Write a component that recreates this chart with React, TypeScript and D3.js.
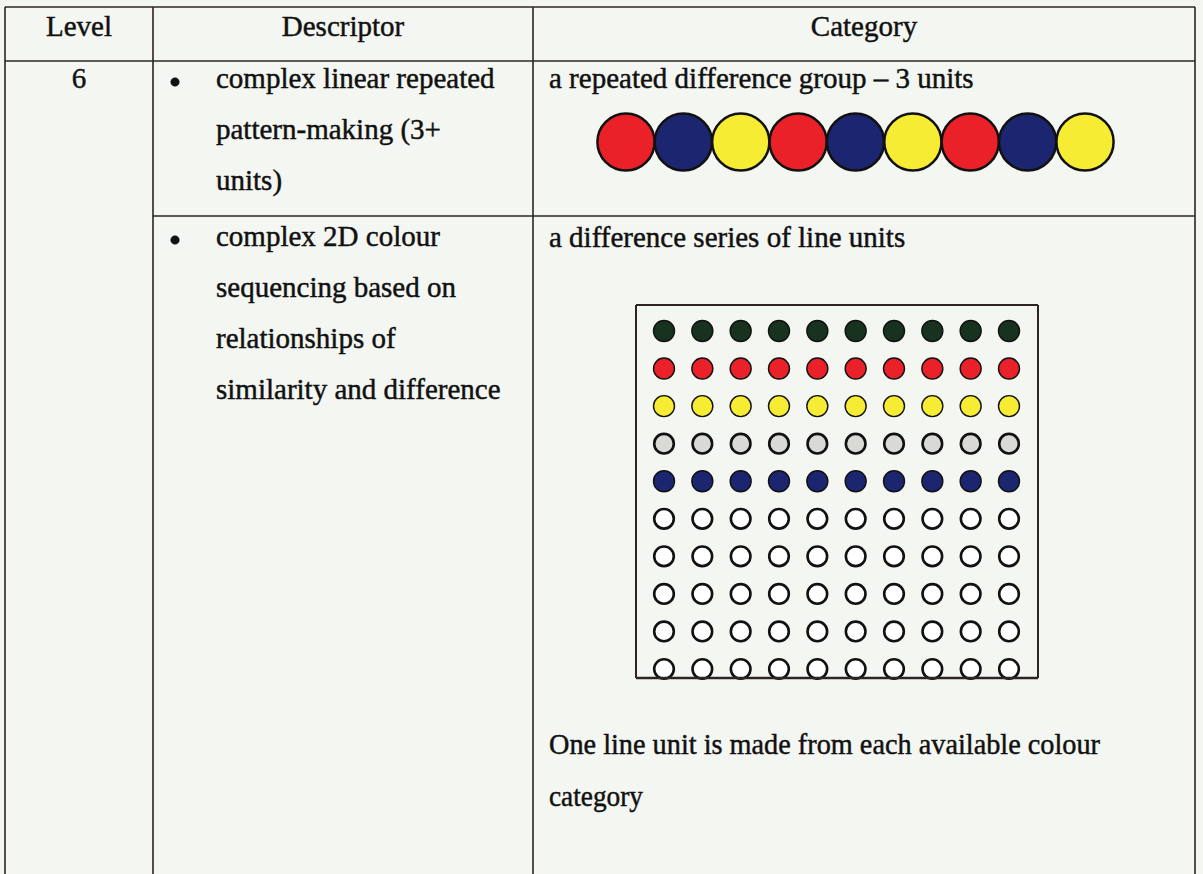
import React from "react";
import * as d3 from "d3";

const headers = ["Level", "Descriptor", "Category"];
const levelLabel = "6";
const descriptor1 = ["complex linear repeated", "pattern-making (3+", "units)"];
const descriptor2 = [
  "complex 2D colour",
  "sequencing based on",
  "relationships of",
  "similarity and difference",
];
const category1 = "a repeated difference group \u2013 3 units";
const category2 = "a difference series of line units";
const note = ["One line unit is made from each available colour", "category"];

// repeated 3-unit pattern
const patternUnits = ["red", "blue", "yellow", "red", "blue", "yellow", "red", "blue", "yellow"];
// 10 x 10 peg grid: one row per colour category
const gridRows = ["green", "red", "yellow", "grey", "blue", "empty", "empty", "empty", "empty", "empty"];
const gridCols = d3.range(10);

const colourOf: Record<string, string> = {
  red: "#ea2128",
  blue: "#1c2670",
  yellow: "#f6ec34",
  green: "#17321f",
  grey: "#d9d9d6",
  empty: "#ffffff",
};

const W = 1203;
const H = 874;
const bg = "#f4f6f2";
const ink = "#2e2424";
const font = "'Liberation Serif', 'Times New Roman', serif";

export default function App() {
  const colX = [5, 153, 533, 1195];
  const topY = 7;
  const headY = 61;
  const rowY = 216;

  const patX = d3
    .scalePoint<number>()
    .domain(d3.range(patternUnits.length))
    .range([626, 1085]);
  const patY = 142;
  const patR = 28.6;

  const box = { x0: 636, x1: 1038, y0: 305, y1: 678 };
  const gx = d3.scalePoint<number>().domain(gridCols).range([664, 1009]);
  const gy = d3.scalePoint<number>().domain(d3.range(gridRows.length)).range([331, 669]);

  const lineH = 51;

  return (
    <div style={{ position: "absolute", left: 0, top: 0, width: W, height: H, background: bg }}>
      <svg width={W} height={H} style={{ display: "block" }}>
        <rect x={0} y={0} width={W} height={H} fill={bg} />
        {/* table lines */}
        <g stroke={ink} strokeWidth={1.6}>
          <line x1={colX[0]} x2={colX[3]} y1={topY} y2={topY} />
          <line x1={colX[0]} x2={colX[3]} y1={headY} y2={headY} />
          <line x1={colX[1]} x2={colX[3]} y1={rowY} y2={rowY} />
          {colX.map((x, i) => (
            <line key={i} x1={x} x2={x} y1={topY} y2={H} />
          ))}
        </g>
        <g fontFamily={font} fontSize={29} fill="#111" stroke="#111" strokeWidth={0.45}>
          {/* headers */}
          <g textAnchor="middle">
            {headers.map((h, i) => (
              <text key={h} x={(colX[i] + colX[i + 1]) / 2} y={36}>
                {h}
              </text>
            ))}
            <text x={(colX[0] + colX[1]) / 2} y={88}>
              {levelLabel}
            </text>
          </g>
          {/* descriptors */}
          <circle cx={175} cy={82} r={4.3} fill="#111" />
          {descriptor1.map((t, i) => (
            <text key={t} x={216} y={88 + i * lineH}>
              {t}
            </text>
          ))}
          <circle cx={175} cy={240} r={4.3} fill="#111" />
          {descriptor2.map((t, i) => (
            <text key={t} x={216} y={246 + i * lineH}>
              {t}
            </text>
          ))}
          <text x={549} y={88}>
            {category1}
          </text>
          <text x={549} y={247}>
            {category2}
          </text>
          <text x={549} y={754} textLength={551} lengthAdjust="spacingAndGlyphs">
            {note[0]}
          </text>
          <text x={549} y={806} textLength={94} lengthAdjust="spacingAndGlyphs">
            {note[1]}
          </text>
        </g>
        {/* repeated pattern */}
        <g stroke="#111" strokeWidth={2.5}>
          {patternUnits.map((c, i) => (
            <circle key={i} cx={patX(i)} cy={patY} r={patR} fill={colourOf[c]} />
          ))}
        </g>
        {/* peg grid */}
        <g>
          {gridRows.map((c, r) =>
            gridCols.map((k) => (
              <circle
                key={`${r}-${k}`}
                cx={gx(k)}
                cy={gy(r)}
                r={c === "empty" || c === "grey" ? 9.8 : 10.5}
                fill={colourOf[c]}
                stroke="#111"
                strokeWidth={c === "empty" || c === "grey" ? 2.6 : 1.4}
              />
            ))
          )}
        </g>
        <g stroke={ink} fill="none">
          <line x1={box.x0} x2={box.x1} y1={box.y0} y2={box.y0} strokeWidth={2} />
          <line x1={box.x0} x2={box.x0} y1={box.y0} y2={box.y1} strokeWidth={2} />
          <line x1={box.x1} x2={box.x1} y1={box.y0} y2={box.y1} strokeWidth={2} />
          <line x1={box.x0} x2={box.x1} y1={box.y1} y2={box.y1} strokeWidth={2.6} />
        </g>
      </svg>
    </div>
  );
}
